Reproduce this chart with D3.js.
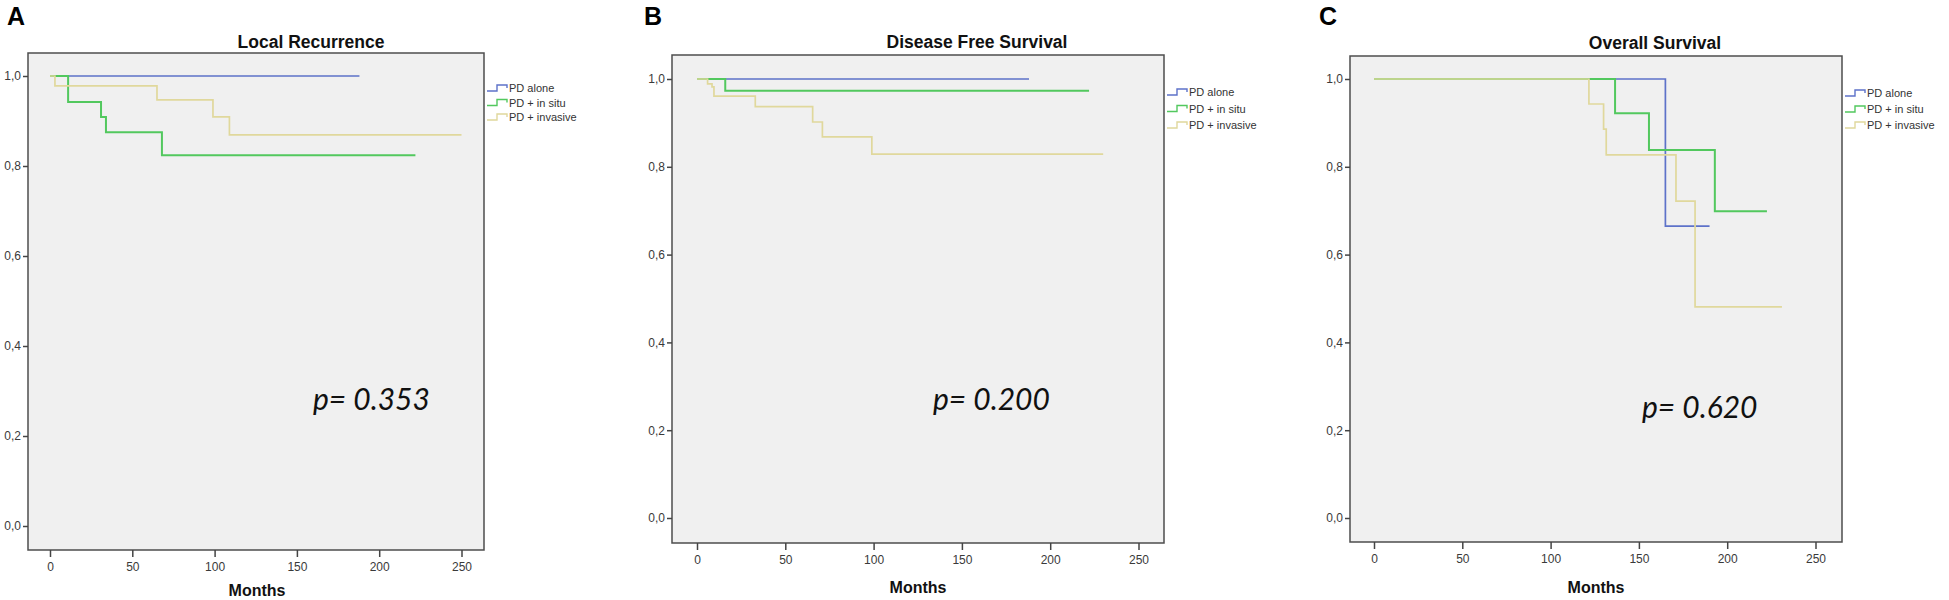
<!DOCTYPE html>
<html>
<head>
<meta charset="utf-8">
<script src="https://cdn.jsdelivr.net/npm/d3@7"></script>
<style>
  body { margin: 0; background: #fff; }
  text { font-family: "Liberation Sans", Arial, sans-serif; }
</style>
</head>
<body>
<div id="chart"></div>
<script>
// tick labels and groups
const monthTicks = [0, 50, 100, 150, 200, 250];
const survTicks = [0, 0.2, 0.4, 0.6, 0.8, 1.0];
const groups = ["PD alone", "PD + in situ", "PD + invasive"];
const groupColors = ["#5d72c9", "#52c85e", "#e0d89c"];

// Kaplan-Meier steps: [month, survival from that month on]
const lrAlone = [[0, 1], [188, 1]];
const lrInSitu = [[0, 1], [11, 0.942], [31, 0.909], [34, 0.875], [68, 0.824], [222, 0.824]];
const lrInvasive = [[0, 1], [3, 0.978], [65, 0.947], [99, 0.909], [109, 0.869], [250, 0.869]];

const dfsAlone = [[0, 1], [188, 1]];
const dfsInSitu = [[0, 1], [16, 0.973], [222, 0.973]];
const dfsInvasive = [[0, 1], [6, 0.989], [8.5, 0.982], [9.6, 0.961], [33, 0.937], [65.5, 0.902], [71, 0.868], [99, 0.829], [230, 0.829]];

const osAlone = [[0, 1], [165, 0.665], [190, 0.665]];
const osInSitu = [[0, 1], [136.5, 0.922], [155.7, 0.838], [193, 0.699], [222.5, 0.699]];
const osInvasive = [[0, 1], [121.7, 0.943], [130, 0.886], [131.5, 0.827], [171, 0.722], [181.8, 0.481], [231, 0.481]];

const panelLetters = ["A", "B", "C"];
const panelTitles = ["Local Recurrence", "Disease Free Survival", "Overall Survival"];
const pValues = ["p= 0.353", "p= 0.200", "p= 0.620"];

// layout of each panel (pixels)
const layouts = [
    {box: {l: 28, r: 484, t: 53, b: 550}, x: [50, 461.5], y: [526, 76],
     letter: [7, 25], title: [311, 48], months: [257, 596], legend: [487, 88, 14.5], p: [313, 410]},
    {box: {l: 672, r: 1164, t: 55, b: 543}, x: [697, 1138.5], y: [518, 79],
     letter: [644, 25], title: [977, 48], months: [918, 593], legend: [1167, 92, 16.5], p: [933, 410]},
    {box: {l: 1350, r: 1842, t: 56, b: 542}, x: [1374, 1815.5], y: [518, 79],
     letter: [1319, 25], title: [1655, 49], months: [1596, 593], legend: [1845, 93, 16], p: [1642, 418]}
];
const panelSeries = [
    [lrAlone, lrInSitu, lrInvasive],
    [dfsAlone, dfsInSitu, dfsInvasive],
    [osAlone, osInSitu, osInvasive]
];

const svg = d3.select("#chart")
    .append("svg")
    .attr("width", 1949)
    .attr("height", 600);

const commaFormat = (d) => d3.format(".1f")(d).replace(".", ",");

function drawPanel(i) {
    let lay = layouts[i];
    let box = lay.box;
    let g = svg.append("g");

    let x = d3.scaleLinear().domain([0, 250]).range(lay.x);
    let y = d3.scaleLinear().domain([0, 1]).range(lay.y);

    g.append("rect")
        .attr("x", box.l)
        .attr("y", box.t)
        .attr("width", box.r - box.l)
        .attr("height", box.b - box.t)
        .attr("fill", "#f0f0f0")
        .attr("stroke", "#4d4d4d")
        .attr("stroke-width", 1.5);

    let yAxis = g.append("g")
        .attr("transform", `translate(${box.l},0)`)
        .call(d3.axisLeft(y).tickValues(survTicks).tickFormat(commaFormat).tickSize(5).tickPadding(2));
    let xAxis = g.append("g")
        .attr("transform", `translate(0,${box.b})`)
        .call(d3.axisBottom(x).tickValues(monthTicks).tickSize(7).tickPadding(5));

    [yAxis, xAxis].forEach((ax) => {
        ax.select(".domain").remove();
        ax.selectAll(".tick line").attr("stroke", "#444").attr("stroke-width", 1.5);
        ax.selectAll(".tick text")
            .attr("fill", "#3a3a3a")
            .style("font-size", "12px")
            .style("font-family", "'Liberation Sans', Arial, sans-serif");
    });

    let line = d3.line()
        .x((d) => x(d[0]))
        .y((d) => y(d[1]))
        .curve(d3.curveStepAfter);

    g.selectAll("path.km")
        .data(panelSeries[i])
        .enter()
        .append("path")
        .attr("class", "km")
        .attr("d", line)
        .attr("fill", "none")
        .attr("stroke", (d, k) => groupColors[k])
        .attr("stroke-width", (d, k) => k == 1 ? 2 : 1.7);

    g.append("text")
        .attr("x", lay.letter[0])
        .attr("y", lay.letter[1])
        .attr("font-size", 25)
        .attr("font-weight", "bold")
        .text(panelLetters[i]);

    g.append("text")
        .attr("x", lay.title[0])
        .attr("y", lay.title[1])
        .attr("text-anchor", "middle")
        .attr("font-size", 17.5)
        .attr("font-weight", "bold")
        .attr("fill", "#111")
        .text(panelTitles[i]);

    g.append("text")
        .attr("x", lay.months[0])
        .attr("y", lay.months[1])
        .attr("text-anchor", "middle")
        .attr("font-size", 16)
        .attr("font-weight", "bold")
        .attr("fill", "#111")
        .text("Months");

    g.append("text")
        .attr("x", lay.p[0])
        .attr("y", lay.p[1])
        .attr("font-size", 30)
        .attr("font-style", "italic")
        .attr("fill", "#111")
        .style("font-family", "Lato, 'Open Sans', sans-serif")
        .text(pValues[i]);

    // legend with little step icons
    let legend = g.selectAll("g.leg")
        .data(groups)
        .enter()
        .append("g")
        .attr("class", "leg")
        .attr("transform", (d, k) => `translate(${lay.legend[0]},${lay.legend[1] + k * lay.legend[2]})`);
    legend.append("path")
        .attr("d", "M0,3H10V-3H20V0")
        .attr("fill", "none")
        .attr("stroke", (d, k) => groupColors[k])
        .attr("stroke-width", 1.4);
    legend.append("text")
        .attr("x", 22)
        .attr("y", 4)
        .attr("font-size", 11)
        .attr("fill", "#333")
        .text((d) => d);
}

for (let i = 0; i < 3; i++) drawPanel(i);
</script>
</body>
</html>
